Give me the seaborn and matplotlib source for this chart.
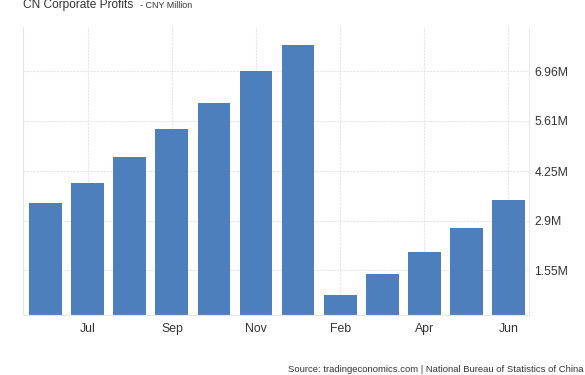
import numpy as np
import pandas as pd
import matplotlib
matplotlib.use('Agg')
import matplotlib.pyplot as plt
import seaborn as sns

# data, CNY million, cumulative
months = ['Jun', 'Jul', 'Aug', 'Sep', 'Oct', 'Nov', 'Dec', 'Feb', 'Mar', 'Apr', 'May', 'Jun']
profits = [3.38, 3.92, 4.63, 5.39, 6.09, 6.97, 7.68, 0.88, 1.46, 2.05, 2.71, 3.47]
ytick_vals = [1.55, 2.9, 4.25, 5.61, 6.96]
ytick_labels = ['1.55M', '2.9M', '4.25M', '5.61M', '6.96M']
shown_months = [1, 3, 5, 7, 9, 11]

df = pd.DataFrame({'pos': np.arange(len(months)), 'profit': profits})

sns.set_style('white')
plt.rcParams['font.family'] = ['Liberation Sans', 'DejaVu Sans']

fig = plt.figure(figsize=(5.85, 3.75), dpi=100)
ax = fig.add_axes([0.0393, 0.16, 0.865, 0.768])

sns.barplot(data=df, x='pos', y='profit', color='#4d7fbd', saturation=1,
            width=0.78, ax=ax, linewidth=0)

ax.set_xlim(-0.54, 11.49)
ax.set_ylim(0.34, 8.16)

ax.set_xticks(shown_months)
ax.set_xticklabels([months[i] for i in shown_months], fontsize=8.8, color='#333333')
ax.yaxis.tick_right()
ax.set_yticks(ytick_vals)
ax.set_yticklabels(ytick_labels, fontsize=8.8, color='#333333')
ax.tick_params(axis='both', length=0, pad=4)
ax.tick_params(axis='x', pad=6)
ax.set_xlabel('')
ax.set_ylabel('')

ax.grid(True, color='#e6e6e6', linestyle=(0, (2, 1)), linewidth=0.8)
ax.set_axisbelow(True)
for s in ['top', 'right']:
    ax.spines[s].set_visible(False)
ax.spines['left'].set_color('#e6e6e6')
ax.spines['bottom'].set_color('#e6e6e6')
ax.spines['right'].set_visible(True)
ax.spines['right'].set_color('#ebebeb')
ax.spines['right'].set_linewidth(0.8)

fig.text(0.039, 1 - 5 / 375, 'CN Corporate Profits', fontsize=8.6, color='#333333', va='center')
fig.text(0.239, 1 - 5.5 / 375, '- CNY Million', fontsize=6.4, color='#333333', va='center')
fig.text(583 / 585, 1 / 375, 'Source: tradingeconomics.com | National Bureau of Statistics of China',
         fontsize=6.8, color='#333333', ha='right', va='bottom')

fig.savefig('out.png', dpi=100)
